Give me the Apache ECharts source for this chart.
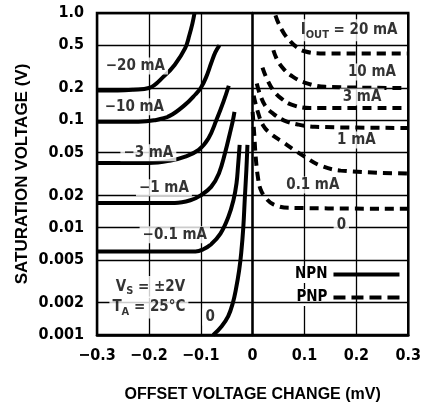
<!DOCTYPE html>
<html>
<head>
<meta charset="utf-8">
<script src="https://cdn.jsdelivr.net/npm/echarts@6/dist/echarts.min.js"></script>
<style>
  html, body { margin: 0; padding: 0; background: #fff; }
  #chart { width: 424px; height: 410px; }
</style>
</head>
<body>
<div id="chart"></div>
<script>
// tick labels
const xTickLabels = ['\u22120.3', '\u22120.2', '\u22120.1', '0', '0.1', '0.2', '0.3']
const yTickValues = [1.0, 0.5, 0.2, 0.1, 0.05, 0.02, 0.01, 0.005, 0.002, 0.001]
const yTickLabels = ['1.0', '0.5', '0.2', '0.1', '0.05', '0.02', '0.01', '0.005', '0.002', '0.001']

// NPN curves (solid), [offset mV, saturation V]
const npn20 = [[-0.3, 0.19], [-0.26, 0.19], [-0.23, 0.193], [-0.2, 0.2], [-0.17, 0.26], [-0.15, 0.33], [-0.13, 0.47], [-0.122, 0.62], [-0.116, 0.8], [-0.112, 1.0]]
const npn10 = [[-0.3, 0.097], [-0.22, 0.097], [-0.19, 0.1], [-0.16, 0.11], [-0.13, 0.14], [-0.11, 0.175], [-0.1, 0.2], [-0.09, 0.25], [-0.08, 0.34], [-0.072, 0.43], [-0.064, 0.5]]
const npn3 = [[-0.3, 0.04], [-0.2, 0.04], [-0.16, 0.042], [-0.13, 0.046], [-0.104, 0.053], [-0.085, 0.068], [-0.07, 0.1], [-0.056, 0.15], [-0.046, 0.21]]
const npn1 = [[-0.3, 0.017], [-0.15, 0.017], [-0.12, 0.018], [-0.1, 0.02], [-0.08, 0.024], [-0.065, 0.032], [-0.053, 0.05], [-0.044, 0.075], [-0.038, 0.1], [-0.035, 0.12]]
const npn01 = [[-0.3, 0.006], [-0.11, 0.006], [-0.095, 0.0063], [-0.08, 0.007], [-0.062, 0.0088], [-0.047, 0.0125], [-0.037, 0.018], [-0.031, 0.026], [-0.028, 0.038], [-0.025, 0.059]]
const npn0 = [[-0.076, 0.001], [-0.06, 0.0012], [-0.047, 0.0015], [-0.038, 0.002], [-0.032, 0.0027], [-0.026, 0.004], [-0.022, 0.0058], [-0.018, 0.01], [-0.015, 0.019], [-0.012, 0.035], [-0.01, 0.059]]

// PNP curves (dashed)
const pnp20 = [[0.044, 0.95], [0.05, 0.8], [0.06, 0.65], [0.072, 0.55], [0.085, 0.48], [0.1, 0.44], [0.13, 0.42], [0.3, 0.42]]
const pnp10 = [[0.04, 0.45], [0.048, 0.36], [0.06, 0.3], [0.075, 0.26], [0.1, 0.225], [0.14, 0.205], [0.3, 0.2]]
const pnp3 = [[0.019, 0.31], [0.028, 0.24], [0.04, 0.19], [0.055, 0.16], [0.075, 0.14], [0.11, 0.13], [0.3, 0.13]]
const pnp1 = [[0.008, 0.22], [0.015, 0.17], [0.025, 0.135], [0.04, 0.115], [0.06, 0.1], [0.085, 0.092], [0.12, 0.087], [0.3, 0.085]]
const pnp01 = [[0.002, 0.17], [0.01, 0.12], [0.02, 0.09], [0.035, 0.075], [0.06, 0.062], [0.08, 0.053], [0.1, 0.046], [0.13, 0.038], [0.17, 0.034], [0.3, 0.032]]
const pnp0 = [[0.0, 0.12], [0.003, 0.075], [0.006, 0.045], [0.01, 0.03], [0.015, 0.023], [0.025, 0.019], [0.04, 0.0165], [0.07, 0.0153], [0.3, 0.015]]

// curve labels: text and anchor in data units
const labelTexts = ['\u221220 mA', '\u221210 mA', '\u22123 mA', '\u22121 mA', '\u22120.1 mA', '0',
  '{b|I}{s|OUT}{b| = 20 mA}', '10 mA', '3 mA', '1 mA', '0.1 mA', '0',
  '{b|V}{s|S}{b| = \u00b12V}', '{b|T}{s|A}{b| = 25\u00b0C}']
const labelAt = [[-0.226, 0.32], [-0.228, 0.134], [-0.201, 0.05], [-0.171, 0.0236], [-0.15, 0.0086], [-0.082, 0.00147],
  [0.186, 0.69], [0.23, 0.282], [0.211, 0.165], [0.2, 0.0656], [0.116, 0.025], [0.171, 0.0105],
  [-0.197, 0.0028], [-0.2, 0.0018]]

const FONT = "'Liberation Sans Narrow', 'DejaVu Sans Condensed', 'Roboto Condensed', 'Liberation Sans', sans-serif"
const TITLE_FONT = "'Liberation Sans', 'DejaVu Sans', sans-serif"

const chart = echarts.init(document.getElementById('chart'))

function curve(name, data, dashed) {
  return {
    name: name,
    type: 'line',
    data: data,
    symbol: 'none',
    smooth: 0.4,
    z: 3,
    itemStyle: { color: '#000' },
    lineStyle: {
      color: '#000',
      width: 4,
      type: dashed ? [9, 6] : 'solid',
      cap: 'butt'
    }
  }
}

const npnSeries = [npn20, npn10, npn3, npn1, npn01, npn0].map(d => curve('NPN', d, false))
const pnpSeries = [pnp20, pnp10, pnp3, pnp1, pnp01, pnp0].map(d => curve('PNP', d, true))

chart.setOption({
  animation: false,
  backgroundColor: '#fff',
  grid: {
    left: 97,
    right: 11,
    top: 13,
    bottom: 75,
    show: true,
    borderColor: '#000',
    borderWidth: 2.5
  },
  legend: {
    data: [
      { name: 'NPN', icon: 'rect' },
      { name: 'PNP', icon: 'path://M0,0h12v4h-12z M18,0h12v4h-12z M36,0h12v4h-12z M54,0h12v4h-12z' }
    ],
    orient: 'vertical',
    align: 'right',
    left: 289,
    top: 261,
    itemWidth: 66,
    itemHeight: 4,
    itemGap: 6,
    itemStyle: { color: '#000', opacity: 1 },
    formatter: name => '{t|' + name + '}',
    textStyle: {
      fontFamily: FONT,
      fontWeight: 'bold',
      fontSize: 15,
      color: '#000',
      rich: {
        t: { fontFamily: FONT, fontWeight: 'bold', fontSize: 15, color: '#000', backgroundColor: '#fff', padding: [1, 1] }
      }
    }
  },
  xAxis: {
    type: 'value',
    min: -0.3,
    max: 0.3,
    interval: 0.1,
    name: 'OFFSET VOLTAGE CHANGE (mV)',
    nameLocation: 'middle',
    nameGap: 52,
    nameTextStyle: { fontFamily: TITLE_FONT, fontWeight: 'bold', fontSize: 16, color: '#000' },
    axisLine: { lineStyle: { color: '#000', width: 2.5 } },
    axisTick: { show: false },
    splitLine: { show: true, lineStyle: { color: '#000', width: 1.3 } },
    axisLabel: {
      margin: 13,
      fontFamily: FONT,
      fontWeight: 'bold',
      fontSize: 16,
      color: '#000',
      formatter: v => xTickLabels[Math.round(v * 10) + 3]
    }
  },
  yAxis: {
    type: 'log',
    logBase: 10,
    min: 0.001,
    max: 1,
    name: 'SATURATION VOLTAGE (V)',
    nameLocation: 'middle',
    nameGap: 66,
    nameTextStyle: { fontFamily: TITLE_FONT, fontWeight: 'bold', fontSize: 17, color: '#000' },
    axisLine: { show: true, lineStyle: { color: '#000', width: 2.5 } },
    axisTick: { show: false },
    axisLabel: { show: false },
    splitLine: { show: false }
  },
  series: [
    {
      name: 'grid',
      type: 'line',
      data: [],
      z: 1,
      markLine: {
        silent: true,
        precision: 5,
        symbol: ['none', 'none'],
        lineStyle: { color: '#000', width: 1.3, type: 'solid' },
        label: {
          position: 'start',
          distance: 13,
          fontFamily: FONT,
          fontWeight: 'bold',
          fontSize: 16,
          color: '#000'
        },
        data: yTickValues.map((v, i) => ({ yAxis: v, label: { formatter: yTickLabels[i] } }))
      }
    },
    ...npnSeries,
    ...pnpSeries,
    {
      name: 'labels',
      type: 'scatter',
      symbolSize: 0,
      z: 5,
      silent: true,
      data: labelAt.map((p, i) => ({ value: p, label: { formatter: labelTexts[i] } })),
      label: {
        show: true,
        position: 'inside',
        fontFamily: FONT,
        fontWeight: 'bold',
        fontSize: 15,
        color: '#000',
        backgroundColor: '#fff',
        padding: [1, 3],
        rich: {
          b: { fontFamily: FONT, fontWeight: 'bold', fontSize: 15, color: '#000' },
          s: { fontFamily: FONT, fontWeight: 'bold', fontSize: 11, color: '#000', padding: [9, 0, 0, 0] }
        }
      }
    }
  ]
})
</script>
</body>
</html>
